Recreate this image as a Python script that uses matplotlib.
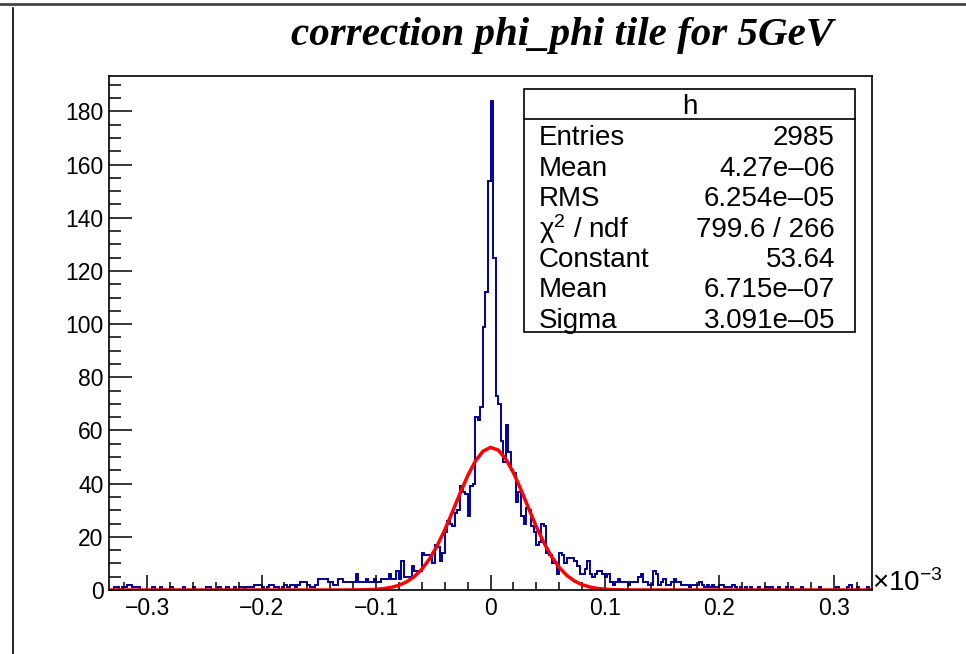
import numpy as np
import matplotlib.pyplot as plt
from matplotlib.patches import Rectangle
from matplotlib.lines import Line2D

plt.rcParams["font.family"] = ["Liberation Sans", "DejaVu Sans"]
plt.rcParams["mathtext.fontset"] = "custom"
plt.rcParams["mathtext.rm"] = "Liberation Sans"
plt.rcParams["mathtext.it"] = "Liberation Sans:italic"

# histogram: 300 bins over [-1/3, 1/3] (x 1e-3)
x_min, x_max = -1.0 / 3.0, 1.0 / 3.0
bin_counts = [
    0, 0, 1, 1, 0, 1, 1, 2, 2, 1,
    1, 1, 0, 0, 0, 0, 0, 1, 0, 0,
    1, 0, 0, 0, 1, 0, 0, 0, 0, 1,
    0, 0, 0, 1, 0, 0, 0, 0, 1, 1,
    0, 0, 0, 1, 0, 0, 1, 0, 0, 1,
    0, 1, 1, 0, 1, 1, 1, 2, 2, 2,
    1, 0, 1, 2, 2, 1, 1, 0, 1, 2,
    1, 2, 2, 1, 2, 3, 3, 3, 2, 1,
    1, 2, 4, 4, 4, 4, 3, 3, 2, 2,
    4, 4, 3, 3, 3, 3, 3, 6, 3, 3,
    3, 4, 3, 3, 4, 3, 3, 4, 4, 4,
    6, 4, 4, 7, 4, 11, 5, 5, 5, 9,
    7, 7, 7, 14, 13, 13, 13, 10, 17, 16,
    11, 14, 22, 26, 25, 24, 29, 30, 39, 37,
    36, 28, 39, 40, 65, 64, 69, 99, 112, 154,
    184, 125, 73, 70, 56, 48, 62, 52, 45, 44,
    33, 37, 28, 25, 31, 30, 24, 22, 17, 18,
    25, 24, 14, 13, 10, 10, 6, 14, 13, 10,
    12, 12, 12, 11, 9, 6, 6, 8, 11, 6,
    5, 6, 7, 7, 6, 5, 6, 3, 2, 3,
    4, 3, 3, 3, 2, 3, 3, 3, 5, 6,
    3, 3, 2, 2, 7, 6, 2, 3, 4, 2,
    2, 3, 4, 3, 3, 2, 2, 2, 1, 2,
    2, 2, 3, 2, 1, 2, 1, 2, 1, 1,
    2, 2, 1, 1, 1, 2, 1, 0, 1, 0,
    1, 0, 1, 0, 0, 1, 0, 0, 1, 0,
    1, 0, 0, 1, 0, 0, 1, 0, 1, 0,
    0, 0, 1, 0, 0, 0, 0, 0, 0, 1,
    0, 0, 0, 0, 0, 0, 1, 0, 0, 0,
    1, 2, 0, 0, 1, 0, 0, 0, 1, 0,
]

# gaussian fit parameters (from stats box, x in units of 1e-3)
fit_constant = 53.64
fit_mean = 6.715e-07 * 1e3
fit_sigma = 3.091e-05 * 1e3

stats_labels = ["Entries", "Mean", "RMS", r"$\mathrm{\chi}^{2}$ / ndf", "Constant", "Mean", "Sigma"]
stats_values = ["2985", "4.27e\u201306", "6.254e\u201305", "799.6 / 266", "53.64", "6.715e\u201307", "3.091e\u201305"]

W, H = 966, 654
fig = plt.figure(figsize=(W / 100, H / 100), dpi=100)


def fx(px):
    return px / W


def fy(py):
    return 1 - py / H


ax = fig.add_axes([fx(109), fy(590), fx(872) - fx(109), fy(76) - fy(590)])

edges = np.linspace(x_min, x_max, len(bin_counts) + 1)
ax.stairs(bin_counts, edges, color="#000099", linewidth=1.4, baseline=0)

xs = np.linspace(x_min, x_max, 101)
ax.plot(xs, fit_constant * np.exp(-0.5 * ((xs - fit_mean) / fit_sigma) ** 2),
        color="#ff0000", linewidth=2.5)

ax.set_xlim(x_min, x_max)
ax.set_ylim(0, 193.3)
ax.set_xticks([-0.3, -0.2, -0.1, 0, 0.1, 0.2, 0.3])
ax.set_xticklabels(["\u22120.3", "\u22120.2", "\u22120.1", "0", "0.1", "0.2", "0.3"])
ax.set_xticks(np.arange(-0.32, 0.33, 0.02), minor=True)
ax.set_yticks(np.arange(0, 181, 20))
ax.set_yticks(np.arange(0, 191, 5), minor=True)
ax.tick_params(axis="x", which="major", direction="in", length=11, width=1.1, labelsize=16.5, pad=5)
ax.tick_params(axis="x", which="minor", direction="in", length=5.5, width=1.1)
ax.tick_params(axis="y", which="major", direction="in", length=16.5, width=1.1, labelsize=16.5, pad=4)
ax.tick_params(axis="y", which="minor", direction="in", length=8.3, width=1.1)
for s in ax.spines.values():
    s.set_linewidth(1.2)

fig.text(fx(872), fy(591), r"$\times10^{-3}$", fontsize=20, ha="left", va="baseline")

fig.text(fx(562), fy(35), "correction phi_phi tile for 5GeV", fontsize=29.5,
         family="Liberation Serif", weight="bold", style="italic", ha="center", va="center")

# stats box
bx0, bx1, by0, by1, bhead = 524, 855, 89, 332, 119
fig.add_artist(Rectangle((fx(bx0), fy(by1)), fx(bx1) - fx(bx0), fy(by0) - fy(by1),
                         transform=fig.transFigure, facecolor="white", edgecolor="black", linewidth=1.2))
fig.add_artist(Line2D([fx(bx0), fx(bx1)], [fy(bhead), fy(bhead)], transform=fig.transFigure,
                      color="black", linewidth=1.2))
fig.text(fx((bx0 + bx1) / 2), fy((by0 + bhead) / 2 + 3), "h", fontsize=20, ha="center", va="center")
row_h = (by1 - bhead) / len(stats_labels)
for k, (lab, val) in enumerate(zip(stats_labels, stats_values)):
    yc = bhead + row_h * (k + 0.5) + 4
    fig.text(fx(539), fy(yc), lab, fontsize=20, ha="left", va="center")
    fig.text(fx(835), fy(yc), val, fontsize=20, ha="right", va="center")

# canvas border lines
fig.add_artist(Line2D([0, 1], [fy(4), fy(4)], transform=fig.transFigure, color="#444444", linewidth=2))
fig.add_artist(Line2D([fx(13), fx(13)], [fy(8), 0], transform=fig.transFigure, color="black", linewidth=1.2))

fig.savefig("out.png", dpi=100)
